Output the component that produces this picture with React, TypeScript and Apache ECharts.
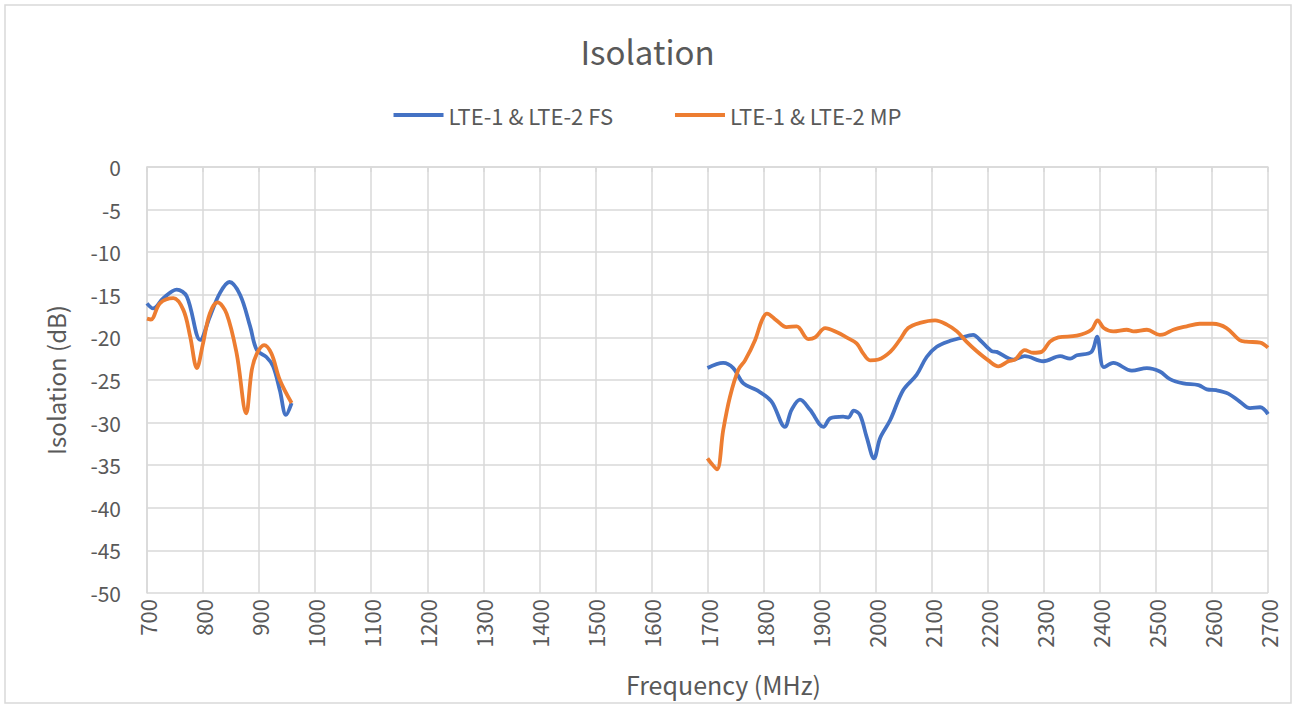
import React, { useEffect, useRef } from "react";
import * as echarts from "echarts";

const title = "Isolation";
const fsName = "LTE-1 & LTE-2 FS";
const mpName = "LTE-1 & LTE-2 MP";
const xName = "Frequency (MHz)";
const yName = "Isolation (dB)";

const fsLowFreq = [700, 711, 729, 753, 771, 795, 812, 830, 847, 866, 884, 896, 913, 925, 937, 948, 958];
const fsLowVal = [-16.0, -16.6, -15.4, -14.4, -15.2, -20.3, -17.6, -14.8, -13.5, -15.0, -18.7, -21.5, -22.3, -23.4, -26.2, -29.1, -27.7];

const mpLowFreq = [700, 707, 723, 747, 765, 777, 789, 800, 812, 826, 842, 860, 877, 887, 896, 909, 922, 937, 958];
const mpLowVal = [-17.8, -17.9, -16.0, -15.4, -16.8, -19.9, -23.6, -20.7, -17.2, -15.9, -17.2, -21.9, -28.9, -23.8, -21.9, -20.9, -21.9, -25.0, -27.7];

const fsHighFreq = [1700, 1728, 1746, 1764, 1788, 1814, 1838, 1850, 1865, 1883, 1907, 1919, 1942, 1951, 1961, 1972, 1984, 1997, 2008, 2026, 2049, 2073, 2091, 2109, 2133, 2150, 2174, 2186, 2207, 2216, 2246, 2266, 2299, 2329, 2347, 2359, 2385, 2395, 2407, 2424, 2457, 2484, 2507, 2525, 2549, 2576, 2591, 2608, 2629, 2649, 2668, 2686, 2700];
const fsHighVal = [-23.6, -23.0, -23.6, -25.4, -26.2, -27.5, -30.5, -28.5, -27.3, -28.5, -30.5, -29.5, -29.3, -29.4, -28.6, -29.1, -31.7, -34.2, -31.8, -29.7, -26.2, -24.4, -22.3, -21.1, -20.4, -20.1, -19.7, -20.3, -21.6, -21.7, -22.6, -22.2, -22.8, -22.2, -22.5, -22.1, -21.7, -19.9, -23.5, -23.0, -23.9, -23.6, -24.0, -24.9, -25.4, -25.6, -26.1, -26.2, -26.6, -27.5, -28.3, -28.2, -29.0];

const mpHighFreq = [1700, 1707, 1717, 1728, 1740, 1755, 1767, 1785, 1797, 1806, 1823, 1841, 1859, 1880, 1892, 1910, 1931, 1948, 1966, 1978, 1990, 2005, 2026, 2043, 2058, 2079, 2106, 2127, 2145, 2162, 2180, 2201, 2219, 2237, 2249, 2266, 2281, 2296, 2311, 2326, 2359, 2385, 2396, 2407, 2424, 2448, 2460, 2484, 2507, 2516, 2531, 2555, 2578, 2602, 2626, 2649, 2661, 2686, 2700];
const mpHighVal = [-34.2, -34.8, -35.5, -30.9, -27.0, -23.8, -22.7, -20.3, -18.0, -17.2, -18.0, -18.8, -18.7, -20.2, -20.0, -18.9, -19.4, -20.0, -20.7, -21.9, -22.7, -22.6, -21.7, -20.3, -18.9, -18.3, -18.0, -18.5, -19.3, -20.5, -21.6, -22.7, -23.4, -22.8, -22.6, -21.5, -21.8, -21.7, -20.5, -20.0, -19.8, -19.1, -18.0, -18.9, -19.3, -19.1, -19.3, -19.1, -19.7, -19.6, -19.1, -18.7, -18.4, -18.4, -18.9, -20.3, -20.5, -20.6, -21.2];

const BLUE = "#4472C4";
const ORANGE = "#ED7D31";
const TEXT = "#595959";
const GRID = "#D9D9D9";
const FONT = "'Noto Sans CJK SC', 'Noto Sans', sans-serif";

const pairs = (f: number[], v: number[]) => f.map((x, i) => [x, v[i]]);

export default function App() {
  const ref = useRef<HTMLDivElement>(null);
  useEffect(() => {
    document.body.style.margin = "0";
    const chart = echarts.init(ref.current!, null, { renderer: "svg" });
    const mk = (name: string, color: string, data: number[][]) => ({
      type: "line",
      name,
      data,
      smooth: 0.35,
      showSymbol: false,
      symbol: "none",
      lineStyle: { color, width: 3.8 },
      itemStyle: { color },
    });
    chart.setOption({
      animation: false,
      textStyle: { fontFamily: FONT, color: TEXT },
      title: {
        text: title,
        left: "center",
        top: 29,
        textStyle: { fontSize: 33, fontWeight: "normal", color: TEXT, fontFamily: FONT },
      },
      legend: {
        data: [fsName, mpName],
        top: 99,
        left: "center",
        itemWidth: 50,
        itemHeight: 4,
        itemGap: 62,
        icon: "rect",
        textStyle: { fontSize: 22, color: TEXT, fontFamily: FONT },
      },
      graphic: [
        {
          type: "rect",
          shape: { x: 5, y: 5, width: 1286, height: 698 },
          style: { fill: "none", stroke: GRID, lineWidth: 1.5 },
          silent: true,
        },
      ],
      grid: { left: 147, right: 27, top: 167, bottom: 113, outerBoundsMode: "none", containLabel: false },
      xAxis: {
        type: "value",
        min: 700,
        max: 2700,
        interval: 100,
        name: xName,
        nameLocation: "middle",
        nameGap: 78,
        nameTextStyle: { fontSize: 25, color: TEXT, fontFamily: FONT, padding: [0, 0, 0, 32] },
        axisLine: { show: true, lineStyle: { color: GRID, width: 1.5 } },
        axisTick: { show: true, length: 5, lineStyle: { color: GRID, width: 1.5 } },
        splitLine: { show: true, lineStyle: { color: GRID, width: 1.5 } },
        axisLabel: {
          rotate: 90,
          fontSize: 22,
          color: TEXT,
          margin: 6,
          fontFamily: FONT,
          formatter: (v: number) => String(v),
        },
      },
      yAxis: {
        type: "value",
        min: -50,
        max: 0,
        interval: 5,
        name: yName,
        nameLocation: "middle",
        nameGap: 80,
        nameTextStyle: { fontSize: 24, color: TEXT, fontFamily: FONT },
        axisLine: { show: true, lineStyle: { color: GRID, width: 1.5 } },
        axisTick: { show: false },
        splitLine: { show: true, lineStyle: { color: GRID, width: 1.5 } },
        axisLabel: { fontSize: 21, color: TEXT, margin: 26, fontFamily: FONT },
      },
      series: [
        mk(fsName, BLUE, pairs(fsLowFreq, fsLowVal)),
        mk(mpName, ORANGE, pairs(mpLowFreq, mpLowVal)),
        mk(fsName, BLUE, pairs(fsHighFreq, fsHighVal)),
        mk(mpName, ORANGE, pairs(mpHighFreq, mpHighVal)),
      ],
    });
    return () => chart.dispose();
  }, []);
  return <div ref={ref} style={{ width: 1295, height: 706 }} />;
}
